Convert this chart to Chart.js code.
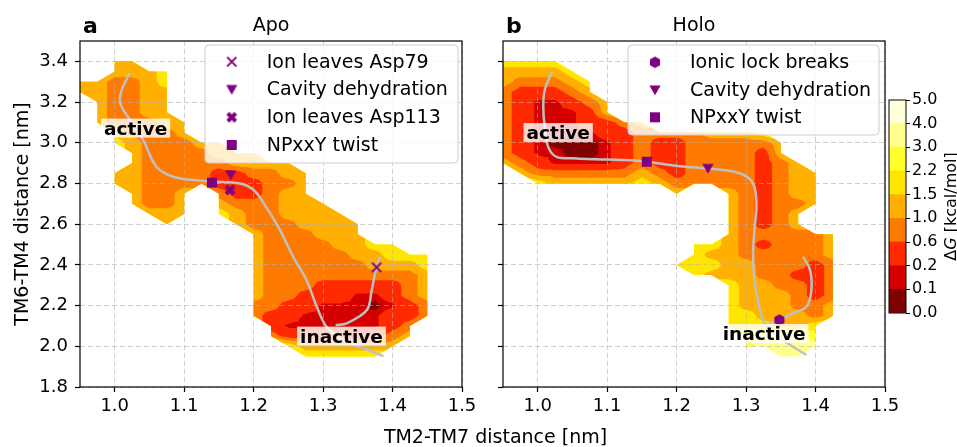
<!DOCTYPE html>
<html>
<head>
<meta charset="utf-8">
<script src="https://cdn.jsdelivr.net/npm/chart.js@4.4.1/dist/chart.umd.min.js"></script>
<style>
  html, body { margin: 0; padding: 0; background: #fff; }
  #wrap { position: relative; width: 957px; height: 447px; }
  #wrap canvas { position: absolute; left: 0; top: 0; }
</style>
</head>
<body>
<div id="wrap">
  <canvas id="apo" width="957" height="447"></canvas>
  <canvas id="holo" width="957" height="447"></canvas>
  <canvas id="cbar" width="957" height="447"></canvas>
</div>
<script>
// ---- data -------------------------------------------------------------
// contour levels of the free energy (kcal/mol) and the colour of each band
const levels = [0.0, 0.1, 0.2, 0.6, 1.0, 1.5, 2.2, 3.0, 4.0, 5.0];
const levelColors = ['#800000', '#d40000', '#ff2a00', '#ff7a00', '#ffb000', '#ffe600', '#ffff2a', '#ffff8c', '#ffffd8'];
const cbarTicks = ['0.0', '0.1', '0.2', '0.6', '1.0', '1.5', '2.2', '3.0', '4.0', '5.0'];

const xTicks = [1.0, 1.1, 1.2, 1.3, 1.4, 1.5];
const yTicks = [1.8, 2.0, 2.2, 2.4, 2.6, 2.8, 3.0, 3.2, 3.4];

// grid nodes of the free energy maps (TM2-TM7 x, TM6-TM4 y)
const gridX = [0.95, 0.975, 1.0, 1.025, 1.05, 1.075, 1.1, 1.125, 1.15, 1.175, 1.2, 1.225,
               1.25, 1.275, 1.3, 1.325, 1.35, 1.375, 1.4, 1.425, 1.45, 1.475, 1.5];
const gridY = [3.45, 3.40, 3.35, 3.30, 3.25, 3.20, 3.15, 3.10, 3.05, 3.00, 2.95, 2.90, 2.85, 2.80, 2.75, 2.70,
               2.65, 2.60, 2.55, 2.50, 2.45, 2.40, 2.35, 2.30, 2.25, 2.20, 2.15, 2.10, 2.05, 2.00, 1.95, 1.90];
// dG at a node, by band: '0'..'8' -> value below, '.' -> no sampling
const bandValue = [0.05, 0.15, 0.4, 0.8, 1.25, 1.85, 2.6, 3.5, 4.5];

const apoGrid = [
  '',
  '..44',
  '..4445',
  '443345',
  '443344',
  '.43344',
  '.43344',
  '.433344',
  '..43334',
  '..5433344',
  '...43333444',
  '...4333334444',
  '..443333223344',
  '..443333222334',
  '...4334.322344',
  '...4334.4333444',
  '....444.54334444',
  '.....4...43334444',
  '..........4333444',
  '..........433334455',
  '..........43333344555',
  '..........43333334445',
  '..........43333333334',
  '..........43332222234',
  '..........43322211234',
  '..........33221110123',
  '..........32211111223',
  '...........211111123',
  '...........322222234',
  '............5444444',
  '.............55555',
  ''
];

const holoGrid = [
  '',
  '5555',
  '44445',
  '433345',
  '322234',
  '3211234',
  '3211124',
  '321112234',
  '3211112233334445',
  '32100012322333334',
  '32110012322333324',
  '432111123223333234',
  '.433333343233332344',
  '..54444454333332344',
  '..........4..432344',
  '.............432334',
  '.............43234',
  '.............43234',
  '.............4333334',
  '...........554323334',
  '...........544333334',
  '..........5554433323',
  '...........544433223',
  '.............5443323',
  '.............5444323',
  '.............5444334',
  '.............5544434',
  '.............555445',
  '..............67776',
  '..............67777',
  '................77',
  ''
];

// transition paths
const apoPathX = [1.022, 1.010, 1.008, 1.022, 1.041, 1.060, 1.084, 1.113, 1.142, 1.180, 1.200, 1.217,
                  1.238, 1.257, 1.276, 1.291, 1.305, 1.330, 1.360, 1.387];
const apoPathY = [3.344, 3.259, 3.194, 3.112, 3.013, 2.882, 2.833, 2.817, 2.809, 2.800, 2.768, 2.690,
                  2.571, 2.440, 2.326, 2.194, 2.096, 2.030, 1.988, 1.952];
const apoBranchX = [1.382, 1.377, 1.370, 1.363, 1.334, 1.318];
const apoBranchY = [2.440, 2.390, 2.276, 2.178, 2.113, 2.104];

const holoPathX = [1.021, 1.010, 1.008, 1.010, 1.015, 1.027, 1.056, 1.084, 1.123, 1.157, 1.200, 1.245,
                   1.291, 1.310, 1.315, 1.312, 1.310, 1.312, 1.319, 1.327, 1.353, 1.387];
const holoPathY = [3.349, 3.259, 3.177, 3.079, 2.980, 2.931, 2.923, 2.919, 2.915, 2.907, 2.886, 2.874,
                   2.850, 2.800, 2.700, 2.571, 2.457, 2.326, 2.194, 2.113, 2.031, 1.957];
const holoBranchX = [1.382, 1.392, 1.394, 1.387, 1.367, 1.348, 1.328];
const holoBranchY = [2.440, 2.375, 2.276, 2.194, 2.162, 2.129, 2.104];

// events along the paths
const apoLegend = ['Ion leaves Asp79', 'Cavity dehydration', 'Ion leaves Asp113', 'NPxxY twist'];
const apoMarkerKind = ['x', 'v', 'X', 's'];
const apoMarkerX = [1.377, 1.167, 1.166, 1.140];
const apoMarkerY = [2.388, 2.842, 2.768, 2.804];

const holoLegend = ['Ionic lock breaks', 'Cavity dehydration', 'NPxxY twist'];
const holoMarkerKind = ['h', 'v', 's'];
const holoMarkerX = [1.348, 1.245, 1.157];
const holoMarkerY = [2.129, 2.874, 2.907];

// state labels
const stateText = ['active', 'inactive'];
const apoStateX = [1.030, 1.3265];
const apoStateY = [3.072, 2.050];
const holoStateX = [1.0295, 1.326];
const holoStateY = [3.050, 2.063];

// ---- look ---------------------------------------------------------------
Chart.defaults.font.family = "'DejaVu Sans', sans-serif";
Chart.defaults.color = '#000';
const purple = '#800080';
const pathColor = '#c0c0c0';
const gridColor = 'rgba(176,176,176,0.6)';
const FONT = '"DejaVu Sans", sans-serif';

function markerCanvas(kind) {
  const c = document.createElement('canvas');
  c.width = 18; c.height = 18;
  const g = c.getContext('2d');
  g.translate(9, 9);
  g.fillStyle = purple; g.strokeStyle = purple;
  g.beginPath();
  if (kind === 'x') {
    g.lineWidth = 2;
    g.moveTo(-4.6, -4.6); g.lineTo(4.6, 4.6);
    g.moveTo(4.6, -4.6); g.lineTo(-4.6, 4.6);
    g.stroke();
  } else if (kind === 'v') {
    g.moveTo(-5.6, -4.6); g.lineTo(5.6, -4.6); g.lineTo(0, 5.2);
    g.closePath(); g.fill();
  } else if (kind === 'X') {
    const w = 0.36, s = 5.6;
    const pts = [[-w, -1], [w, -1], [w, -w], [1, -w], [1, w], [w, w], [w, 1], [-w, 1], [-w, w], [-1, w], [-1, -w], [-w, -w]];
    pts.forEach(([a, b], k) => {
      const px = (a - b) / Math.SQRT2 * s, py = (a + b) / Math.SQRT2 * s;
      if (k) g.lineTo(px, py); else g.moveTo(px, py);
    });
    g.closePath(); g.fill();
  } else if (kind === 's') {
    g.rect(-5, -5, 10, 10); g.fill();
  } else if (kind === 'h') {
    for (let k = 0; k < 6; k++) {
      const a = Math.PI / 3 * k - Math.PI / 2;
      const px = Math.cos(a) * 5.8, py = Math.sin(a) * 5.8;
      if (k) g.lineTo(px, py); else g.moveTo(px, py);
    }
    g.closePath(); g.fill();
  }
  return c;
}

// triangles of the sampled grid (cells with a missing corner keep the valid triangle)
function gridTriangles(chart, grid) {
  const xs = chart.scales.x, ys = chart.scales.y;
  const val = (i, j) => {
    const ch = (grid[j] || '')[i] || '.';
    return ch === '.' ? null : bandValue[+ch];
  };
  const tris = [];
  for (let j = 0; j < gridY.length - 1; j++) {
    for (let i = 0; i < gridX.length - 1; i++) {
      const corners = [[i, j], [i + 1, j], [i + 1, j + 1], [i, j + 1]].map(([a, b]) => ({
        x: xs.getPixelForValue(gridX[a]), y: ys.getPixelForValue(gridY[b]), v: val(a, b)
      }));
      const ok = corners.filter(c => c.v !== null);
      if (ok.length === 4) {
        const m = {
          x: (corners[0].x + corners[2].x) / 2,
          y: (corners[0].y + corners[2].y) / 2,
          v: (ok[0].v + ok[1].v + ok[2].v + ok[3].v) / 4
        };
        for (let k = 0; k < 4; k++) tris.push([corners[k], corners[(k + 1) % 4], m]);
      } else if (ok.length === 3) {
        tris.push(ok);
      }
    }
  }
  return tris;
}

function clipBelow(poly, t) {
  const out = [];
  for (let k = 0; k < poly.length; k++) {
    const a = poly[k], b = poly[(k + 1) % poly.length];
    const ain = a.v <= t, bin = b.v <= t;
    if (ain) out.push(a);
    if (ain !== bin) {
      const f = (t - a.v) / (b.v - a.v);
      out.push({ x: a.x + f * (b.x - a.x), y: a.y + f * (b.y - a.y), v: t });
    }
  }
  return out;
}

function drawContours(chart, grid) {
  const ctx = chart.ctx, ca = chart.chartArea;
  const tris = gridTriangles(chart, grid);
  ctx.save();
  ctx.beginPath();
  ctx.rect(ca.left, ca.top, ca.right - ca.left, ca.bottom - ca.top);
  ctx.clip();
  for (let k = levelColors.length - 1; k >= 0; k--) {
    const t = levels[k + 1];
    ctx.beginPath();
    tris.forEach(tri => {
      const poly = clipBelow(tri, t);
      if (poly.length < 3) return;
      ctx.moveTo(poly[0].x, poly[0].y);
      for (let n = 1; n < poly.length; n++) ctx.lineTo(poly[n].x, poly[n].y);
      ctx.closePath();
    });
    ctx.fillStyle = levelColors[k];
    ctx.fill();
  }
  ctx.restore();
}

function roundRect(ctx, x, y, w, h, r) {
  ctx.beginPath();
  ctx.moveTo(x + r, y);
  ctx.arcTo(x + w, y, x + w, y + h, r);
  ctx.arcTo(x + w, y + h, x, y + h, r);
  ctx.arcTo(x, y + h, x, y, r);
  ctx.arcTo(x, y, x + w, y, r);
  ctx.closePath();
}

function makePanel(p) {
  const imgs = p.markerKind.map(markerCanvas);
  const toPts = (xs, ys) => xs.map((x, k) => ({ x: x, y: ys[k] }));
  const lineStyle = { showLine: true, borderColor: pathColor, borderWidth: 2.5, pointRadius: 0,
                      pointHoverRadius: 0, tension: 0.35, order: 3 };
  const datasets = [
    Object.assign({ data: toPts(p.pathX, p.pathY) }, lineStyle),
    Object.assign({ data: toPts(p.branchX, p.branchY) }, lineStyle)
  ].concat(p.markerX.map((x, k) => ({
    data: [{ x: x, y: p.markerY[k] }], pointStyle: imgs[k], pointRadius: 6, order: 1
  })));

  const panelPlugin = {
    id: 'panel_' + p.id,
    beforeDraw(chart) { drawContours(chart, p.grid); },
    afterDatasetsDraw(chart) {
      const ctx = chart.ctx;
      ctx.save();
      ctx.font = 'bold 18.5px ' + FONT;
      stateText.forEach((txt, k) => {
        const cx = chart.scales.x.getPixelForValue(p.stateX[k]);
        const cy = chart.scales.y.getPixelForValue(p.stateY[k]);
        const w = ctx.measureText(txt).width;
        ctx.fillStyle = 'rgba(255,255,255,0.8)';
        ctx.fillRect(cx - w / 2 - 3, cy - 9.5, w + 6, 19);
        ctx.fillStyle = '#000';
        ctx.textAlign = 'center';
        ctx.textBaseline = 'alphabetic';
        ctx.fillText(txt, cx, cy + 6.8);
      });
      ctx.restore();
    },
    afterDraw(chart) {
      const ctx = chart.ctx, ca = chart.chartArea, lb = p.legendBox;
      ctx.save();
      // frame
      ctx.strokeStyle = '#000';
      ctx.lineWidth = 1.2;
      ctx.strokeRect(ca.left, ca.top, ca.right - ca.left, ca.bottom - ca.top);
      // legend
      roundRect(ctx, lb.x, lb.y, lb.w, lb.h, 4);
      ctx.fillStyle = 'rgba(255,255,255,0.8)';
      ctx.fill();
      ctx.strokeStyle = '#cccccc';
      ctx.lineWidth = 1;
      ctx.stroke();
      ctx.font = '19px ' + FONT;
      ctx.fillStyle = '#000';
      ctx.textAlign = 'left';
      ctx.textBaseline = 'middle';
      p.legend.forEach((txt, k) => {
        ctx.drawImage(imgs[k], lb.mx - 9, lb.rows[k] - 9);
        ctx.fillText(txt, lb.tx, lb.rows[k] + 1);
      });
      // titles
      ctx.textBaseline = 'alphabetic';
      ctx.textAlign = 'center';
      ctx.font = '19px ' + FONT;
      ctx.fillText(p.title, (ca.left + ca.right) / 2, 31);
      ctx.textAlign = 'left';
      ctx.font = 'bold 22px ' + FONT;
      ctx.fillText(p.letter, ca.left + 3, 33);
      if (p.axisTitles) {
        ctx.font = '19px ' + FONT;
        ctx.textAlign = 'center';
        ctx.fillText('TM2-TM7 distance [nm]', 495.5, 443);
        ctx.translate(28, (ca.top + ca.bottom) / 2);
        ctx.rotate(-Math.PI / 2);
        ctx.fillText('TM6-TM4 distance [nm]', 0, 0);
      }
      ctx.restore();
    }
  };

  return new Chart(document.getElementById(p.id), {
    type: 'scatter',
    data: { datasets: datasets },
    options: {
      responsive: false,
      animation: false,
      events: [],
      layout: { padding: { left: 0, top: 41, right: 957 - p.right, bottom: 0 } },
      plugins: { legend: { display: false }, tooltip: { enabled: false } },
      scales: {
        x: {
          type: 'linear', min: 0.95, max: 1.5,
          afterBuildTicks: s => { s.ticks = xTicks.map(v => ({ value: v })); },
          afterFit: s => { s.height = 60; },
          ticks: { callback: v => v.toFixed(1), font: { size: 18 }, color: '#000', padding: 4, maxRotation: 0, autoSkip: false },
          grid: { color: gridColor, lineWidth: 1, tickColor: '#000', tickLength: 5, tickWidth: 1.2 },
          border: { display: false, dash: [5, 3] }
        },
        y: {
          type: 'linear', min: 1.8, max: 3.5,
          afterBuildTicks: s => { s.ticks = yTicks.map(v => ({ value: v })); },
          afterFit: s => { s.width = p.left; },
          ticks: { callback: v => p.yLabels ? v.toFixed(1) : '', font: { size: 18 }, color: '#000', padding: 7, autoSkip: false },
          grid: { color: gridColor, lineWidth: 1, tickColor: '#000', tickLength: 5, tickWidth: 1.2 },
          border: { display: false, dash: [5, 3] }
        }
      }
    },
    plugins: [panelPlugin]
  });
}

makePanel({
  id: 'apo', grid: apoGrid, title: 'Apo', letter: 'a', left: 80, right: 462, yLabels: true, axisTitles: true,
  pathX: apoPathX, pathY: apoPathY, branchX: apoBranchX, branchY: apoBranchY,
  markerKind: apoMarkerKind, markerX: apoMarkerX, markerY: apoMarkerY, legend: apoLegend,
  stateX: apoStateX, stateY: apoStateY,
  legendBox: { x: 205, y: 45, w: 253, h: 118, mx: 231.7, tx: 266.7, rows: [61.7, 89.5, 117.3, 145] }
});

makePanel({
  id: 'holo', grid: holoGrid, title: 'Holo', letter: 'b', left: 503, right: 885, yLabels: false, axisTitles: false,
  pathX: holoPathX, pathY: holoPathY, branchX: holoBranchX, branchY: holoBranchY,
  markerKind: holoMarkerKind, markerX: holoMarkerX, markerY: holoMarkerY, legend: holoLegend,
  stateX: holoStateX, stateY: holoStateY,
  legendBox: { x: 628, y: 45, w: 251, h: 90, mx: 655, tx: 690, rows: [62.3, 90, 117.3] }
});

// colour bar
const cbarPlugin = {
  id: 'cbarFrame',
  afterDraw(chart) {
    const ctx = chart.ctx, ca = chart.chartArea;
    ctx.save();
    ctx.strokeStyle = '#000';
    ctx.lineWidth = 1;
    ctx.strokeRect(ca.left, ca.top, ca.right - ca.left, ca.bottom - ca.top);
    // rotated label "ΔG [kcal/mol]" with italic G
    const parts = [['Δ', '16px ' + FONT], ['G', 'italic 16px ' + FONT], [' [kcal/mol]', '16px ' + FONT]];
    let total = 0;
    parts.forEach(pt => { ctx.font = pt[1]; total += ctx.measureText(pt[0]).width; });
    ctx.translate(956, (ca.top + ca.bottom) / 2);
    ctx.rotate(-Math.PI / 2);
    ctx.fillStyle = '#000';
    ctx.textAlign = 'left';
    ctx.textBaseline = 'alphabetic';
    let x = -total / 2;
    parts.forEach(pt => { ctx.font = pt[1]; ctx.fillText(pt[0], x, 0); x += ctx.measureText(pt[0]).width; });
    ctx.restore();
  }
};

new Chart(document.getElementById('cbar'), {
  type: 'bar',
  data: {
    labels: [''],
    datasets: levelColors.map(c => ({ data: [1], backgroundColor: c, borderWidth: 0, barPercentage: 1, categoryPercentage: 1 }))
  },
  options: {
    responsive: false,
    animation: false,
    events: [],
    layout: { padding: { left: 889, top: 100, right: 0, bottom: 134 } },
    plugins: { legend: { display: false }, tooltip: { enabled: false } },
    scales: {
      x: { display: false, stacked: true },
      y: {
        position: 'right', stacked: true, min: 0, max: levels.length - 1,
        afterBuildTicks: s => { s.ticks = cbarTicks.map((t, k) => ({ value: k })); },
        afterFit: s => { s.width = 51; },
        ticks: { callback: v => cbarTicks[v], font: { size: 16 }, color: '#000', padding: 2, autoSkip: false },
        grid: { drawOnChartArea: false, tickLength: 4, tickColor: '#000', tickWidth: 1 },
        border: { display: false }
      }
    }
  },
  plugins: [cbarPlugin]
});
</script>
</body>
</html>
